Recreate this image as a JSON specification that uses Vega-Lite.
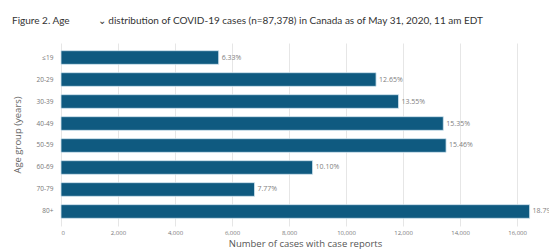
{
  "$schema": "https://vega.github.io/schema/vega-lite/v6.json",
  "autosize": "none",
  "width": 488,
  "height": 183,
  "padding": {"left": 61, "top": 43, "right": 8, "bottom": 24},
  "background": "white",
  "title": {
    "text": "Figure 2.  Age\u00a0\u00a0\u00a0\u00a0\u00a0\u00a0\u00a0\u00a0\u00a0\u00a0\u00a0⌄ distribution of COVID-19 cases (n=87,378) in Canada as of May 31, 2020, 11 am EDT",
    "anchor": "start",
    "frame": "group",
    "dx": -49,
    "offset": 17,
    "font": "Lato",
    "fontSize": 10,
    "fontWeight": "normal",
    "color": "#333333"
  },
  "data": {
    "values": [
      {"age": "≤19", "cases": 5531, "pct": "6.33%"},
      {"age": "20-29", "cases": 11053, "pct": "12.65%"},
      {"age": "30-39", "cases": 11840, "pct": "13.55%"},
      {"age": "40-49", "cases": 13412, "pct": "15.35%"},
      {"age": "50-59", "cases": 13509, "pct": "15.46%"},
      {"age": "60-69", "cases": 8825, "pct": "10.10%"},
      {"age": "70-79", "cases": 6789, "pct": "7.77%"},
      {"age": "80+", "cases": 16440, "pct": "18.79%"}
    ]
  },
  "encoding": {
    "y": {
      "field": "age",
      "type": "nominal",
      "sort": null,
      "scale": {"paddingInner": 0.38, "paddingOuter": 0.35},
      "axis": {
        "title": "Age group (years)",
        "titleFont": "Open Sans",
        "titleFontSize": 9.5,
        "titleFontWeight": "normal",
        "titleColor": "#666666",
        "titlePadding": 14,
        "labelFont": "Open Sans",
        "labelFontSize": 6.5,
        "labelColor": "#777777",
        "labelPadding": 8,
        "ticks": false,
        "domain": false,
        "grid": false
      }
    },
    "x": {
      "field": "cases",
      "type": "quantitative",
      "scale": {"domain": [0, 17120], "nice": false},
      "axis": {
        "title": "Number of cases with case reports",
        "titleFont": "Open Sans",
        "titleFontSize": 9.5,
        "titleFontWeight": "normal",
        "titleColor": "#555555",
        "titlePadding": 3,
        "values": [0, 2000, 4000, 6000, 8000, 10000, 12000, 14000, 16000],
        "format": ",.0f",
        "labelFont": "Open Sans",
        "labelFontSize": 6,
        "labelColor": "#777777",
        "labelPadding": 3,
        "ticks": false,
        "domain": false,
        "grid": true,
        "gridColor": "#e6e6e6",
        "gridWidth": 1
      }
    }
  },
  "layer": [
    {
      "mark": {"type": "bar", "color": "#0f5a80", "stroke": "#cfe3ee", "strokeWidth": 0.8}
    },
    {
      "mark": {"type": "text", "align": "left", "dx": 3, "font": "Open Sans", "fontSize": 7, "color": "#808080", "clip": true},
      "encoding": {"text": {"field": "pct"}}
    }
  ],
  "config": {"view": {"stroke": null}}
}
